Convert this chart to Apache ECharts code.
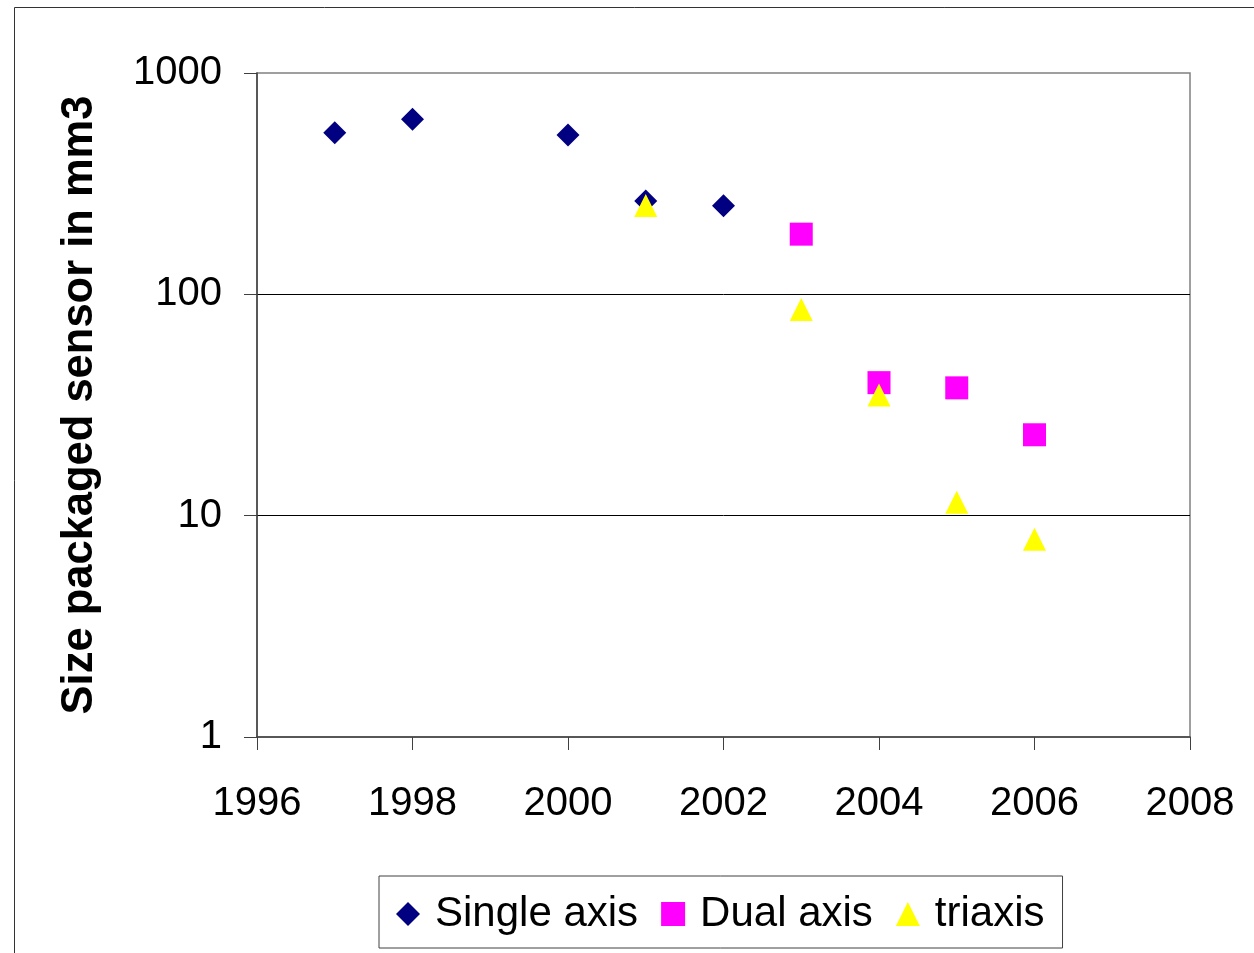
<!DOCTYPE html>
<html>
<head>
<meta charset="utf-8">
<script src="https://cdn.jsdelivr.net/npm/echarts@6/dist/echarts.min.js"></script>
<style>
html,body{margin:0;padding:0;background:#fff;}
#chart{width:1254px;height:953px;}
</style>
</head>
<body>
<div id="chart"></div>
<script>
var yearTicks = [1996, 1998, 2000, 2002, 2004, 2006, 2008];
var yTicks = [1, 10, 100, 1000];
var seriesNames = ['Single axis', 'Dual axis', 'triaxis'];
var singleYears = [1997, 1998, 2000, 2001, 2002];
var singleValues = [537, 618, 525, 264, 251];
var dualYears = [2003, 2004, 2005, 2006];
var dualValues = [187, 39.9, 37.8, 23.2];
var triYears = [2001, 2003, 2004, 2005, 2006];
var triValues = [252, 85.4, 35.1, 11.5, 7.82];

function pairs(xs, ys) { return xs.map(function (x, i) { return [x, ys[i]]; }); }

var FONT = '"Liberation Sans", Arial, sans-serif';
var chart = echarts.init(document.getElementById('chart'), null, {renderer: 'canvas'});
chart.setOption({
  animation: false,
  backgroundColor: '#fff',
  textStyle: {fontFamily: FONT, color: '#000'},
  graphic: [{
    type: 'rect', left: 12, top: 5, silent: true, z: -10,
    shape: {x: 0, y: 0, width: 1400, height: 1100},
    style: {fill: 'none', stroke: '#333', lineWidth: 1}
  }],
  grid: {
    left: 257, top: 73, right: 64, bottom: 216,
    show: true, borderColor: '#808080', borderWidth: 1.5, backgroundColor: 'transparent'
  },
  legend: {
    left: 379, top: 876,
    padding: [16, 18, 12, 17],
    itemWidth: 24, itemHeight: 24, itemGap: 23,
    borderColor: '#404040', borderWidth: 1, borderRadius: 0,
    textStyle: {fontSize: 42, lineHeight: 44, fontFamily: FONT, color: '#000', padding: [0, 0, 0, 10]},
    data: seriesNames
  },
  xAxis: {
    type: 'value', min: yearTicks[0], max: yearTicks[yearTicks.length - 1], interval: 2,
    axisLine: {show: true, lineStyle: {color: '#404040', width: 1.5}},
    axisTick: {show: true, inside: false, length: 13, lineStyle: {color: '#404040', width: 1}},
    axisLabel: {fontSize: 40, margin: 47, color: '#000', fontFamily: FONT,
      formatter: function (v) { return String(v); }},
    splitLine: {show: false}
  },
  yAxis: {
    type: 'log', logBase: 10, min: yTicks[0], max: yTicks[yTicks.length - 1],
    name: 'Size packaged sensor in mm3', nameLocation: 'middle', nameGap: 155,
    nameTextStyle: {fontSize: 43.5, fontWeight: 'bold', color: '#000', fontFamily: FONT},
    axisLine: {show: true, lineStyle: {color: '#404040', width: 1.5}},
    axisTick: {show: true, inside: false, length: 13, lineStyle: {color: '#404040', width: 1}},
    axisLabel: {fontSize: 40, margin: 35, color: '#000', fontFamily: FONT,
      formatter: function (v) { return String(Math.round(v)); }},
    splitLine: {show: true, showMinLine: false, showMaxLine: false, lineStyle: {color: '#000', width: 1}}
  },
  series: [
    {name: seriesNames[0], type: 'scatter', symbol: 'diamond', symbolSize: 23,
     itemStyle: {color: '#000080', opacity: 1}, data: pairs(singleYears, singleValues)},
    {name: seriesNames[1], type: 'scatter', symbol: 'rect', symbolSize: 23,
     itemStyle: {color: '#FF00FF', opacity: 1}, data: pairs(dualYears, dualValues)},
    {name: seriesNames[2], type: 'scatter', symbol: 'triangle', symbolSize: 23,
     itemStyle: {color: '#FFFF00', opacity: 1}, data: pairs(triYears, triValues)}
  ]
});
</script>
</body>
</html>
